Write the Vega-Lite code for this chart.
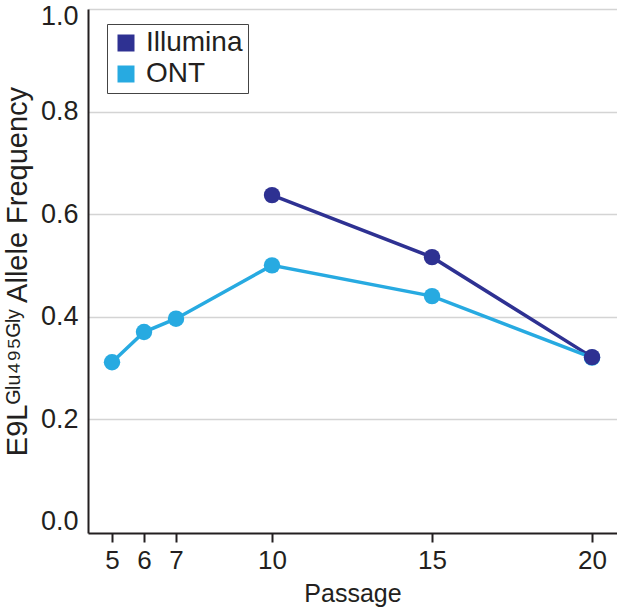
{
  "$schema": "https://vega.github.io/schema/vega-lite/v6.json",
  "width": 529,
  "height": 524,
  "autosize": {"type": "none"},
  "padding": {"left": 88, "top": 9, "right": 0, "bottom": 77},
  "background": "white",
  "data": {
    "values": [
      {"passage": 10, "freq": 0.637, "platform": "Illumina"},
      {"passage": 15, "freq": 0.516, "platform": "Illumina"},
      {"passage": 20, "freq": 0.321, "platform": "Illumina"},
      {"passage": 5, "freq": 0.311, "platform": "ONT"},
      {"passage": 6, "freq": 0.370, "platform": "ONT"},
      {"passage": 7, "freq": 0.396, "platform": "ONT"},
      {"passage": 10, "freq": 0.500, "platform": "ONT"},
      {"passage": 15, "freq": 0.440, "platform": "ONT"},
      {"passage": 20, "freq": 0.320, "platform": "ONT"}
    ]
  },
  "encoding": {
    "x": {
      "field": "passage",
      "type": "quantitative",
      "scale": {"domain": [4.25, 20.78], "nice": false, "zero": false},
      "axis": {
        "title": "Passage",
        "values": [5, 6, 7, 10, 15, 20],
        "grid": false,
        "tickSize": 9,
        "labelPadding": 5,
        "labelFontSize": 26,
        "titleFontSize": 25,
        "titlePadding": 8
      }
    },
    "y": {
      "field": "freq",
      "type": "quantitative",
      "scale": {"domain": [-0.022, 1.0], "nice": false, "zero": false},
      "axis": {
        "title": "E9Lᴳˡᵘ⁴⁹⁵ᴳˡʸ Allele Frequency",
        "values": [0, 0.2, 0.4, 0.6, 0.8, 1.0],
        "format": ".1f",
        "ticks": false,
        "labelPadding": 10,
        "labelFontSize": 27,
        "labelFlush": true,
        "labelFlushOffset": 6,
        "titleFontSize": 29,
        "titlePadding": 8,
        "gridColor": {
          "condition": {"test": "datum.value === 0", "value": "transparent"},
          "value": "#d4d4d4"
        }
      }
    },
    "color": {
      "field": "platform",
      "type": "nominal",
      "scale": {"domain": ["Illumina", "ONT"], "range": ["#2e3192", "#27aae1"]},
      "legend": {
        "title": null,
        "orient": "none",
        "legendX": 19,
        "legendY": 15,
        "symbolType": "square",
        "symbolSize": 289,
        "symbolStrokeWidth": 0,
        "labelFontSize": 28,
        "labelOffset": 6,
        "rowPadding": 3,
        "padding": 5,
        "strokeColor": "#444444",
        "fillColor": "white"
      }
    },
    "order": {"field": "platform", "sort": "descending"}
  },
  "layer": [
    {
      "mark": {"type": "line", "strokeWidth": 3.5}
    },
    {
      "mark": {"type": "circle", "size": 270, "opacity": 1}
    }
  ],
  "config": {
    "font": "Liberation Sans",
    "view": {"stroke": null},
    "axis": {
      "domainColor": "#231f20",
      "domainWidth": 2,
      "tickColor": "#231f20",
      "tickWidth": 2,
      "labelColor": "#231f20",
      "titleFontWeight": "normal",
      "titleColor": "#231f20",
      "gridWidth": 1.5
    },
    "legend": {
      "labelColor": "#231f20"
    }
  }
}
